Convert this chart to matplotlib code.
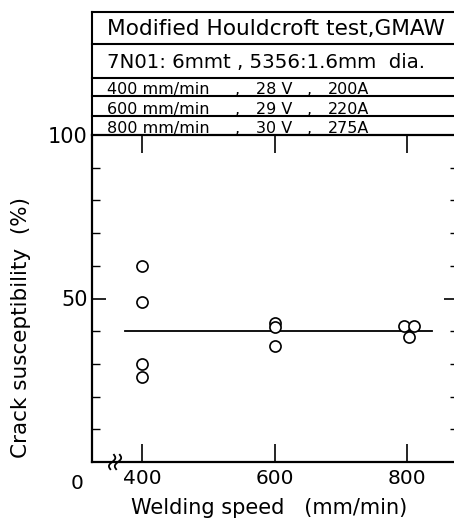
import matplotlib.pyplot as plt
from matplotlib.lines import Line2D
import numpy as np

# data
speed_400 = [400, 400, 400, 400]
crack_400 = [60, 49, 30, 26]
speed_600 = [600, 600, 600]
crack_600 = [42.5, 41.2, 35.5]
speed_800 = [795, 810, 803]
crack_800 = [41.5, 41.5, 38.2]
trend_x = [374, 838]
trend_y = [40, 40]

header_title = "Modified Houldcroft test,GMAW"
header_mat = "7N01: 6mmt , 5356:1.6mm  dia."
cond_speed = ["400 mm/min", "600 mm/min", "800 mm/min"]
cond_volt = ["28 V", "29 V", "30 V"]
cond_amp = ["200A", "220A", "275A"]

plt.rcParams['font.family'] = ['DejaVu Sans']
W, H = 454, 520
fig = plt.figure(figsize=(W / 100, H / 100), dpi=100)

def fx(px):
    return px / W

def fy(py):
    return 1 - py / H

ax_l, ax_r, ax_t, ax_b = 92, 458, 135, 462
ax = fig.add_axes([fx(ax_l), fy(ax_b), fx(ax_r - ax_l), fy(ax_t) - fy(ax_b)])
ax.set_xlim(324.5, 877)
ax.set_ylim(0, 100)

mk = dict(marker='o', mfc='white', mec='black', ms=8, mew=1.2, ls='none', zorder=3)
ax.plot(trend_x, trend_y, color='black', lw=1.3, zorder=2)
ax.plot(speed_400, crack_400, **mk)
ax.plot(speed_600, crack_600, **mk)
ax.plot(speed_800, crack_800, **mk)

for s in ax.spines.values():
    s.set_linewidth(1.6)

ax.set_xticks([400, 600, 800])
ax.set_xticklabels(['400', '600', '800'])
ax.set_yticks([50, 100])
ax.set_yticklabels(['50', '100'])
ax.set_yticks(np.arange(10, 100, 10), minor=True)
ax.tick_params(axis='x', direction='in', length=13, width=1.2, top=True,
               labelsize=14.5, pad=5)
ax.tick_params(axis='y', which='major', direction='in', length=10, width=1.2,
               right=True, labelsize=15, pad=3)
ax.tick_params(axis='y', which='minor', direction='in', length=6, width=1.0,
               right=True)

ax.text(-0.022, -0.036, '0', transform=ax.transAxes, ha='right', va='top',
        fontsize=14.5)
ax.set_xlabel('Welding speed   (mm/min)', fontsize=15)
ax.set_ylabel('Crack susceptibility  (%)', fontsize=15.5)
ax.yaxis.set_label_coords(-0.167, 0.41)
ax.xaxis.set_label_coords(0.485, -0.11)

# axis break mark
bx = 0.055
for dx in (0.0, 0.016):
    t = np.linspace(-1, 1, 40)
    xs = bx + dx + 0.006 * np.sin(t * np.pi) + 0.005 * t
    ys = 0.022 * t
    ax.plot(xs, ys, transform=ax.transAxes, color='black', lw=1.3,
            clip_on=False, zorder=4)

# header box
top = 12
rows = [top, 44, 78, 96, 116, 135]
lw = 1.5
fig.add_artist(Line2D([fx(ax_l), fx(ax_l)], [fy(top), fy(ax_t)], color='black', lw=lw))
for r in rows[:-1]:
    fig.add_artist(Line2D([fx(ax_l), fx(ax_r)], [fy(r), fy(r)], color='black', lw=lw))

fig.text(fx(107), fy(29), header_title, fontsize=15.6, va='center', ha='left')
fig.text(fx(107), fy(62), header_mat, fontsize=14.2, va='center', ha='left')
cs = 11.5
for i in range(3):
    yb = fy(rows[i + 3] - 2)
    fig.text(fx(107), yb, cond_speed[i], fontsize=cs, va='baseline', ha='left')
    fig.text(fx(235), yb, ',', fontsize=cs, va='baseline', ha='left')
    fig.text(fx(256), yb, cond_volt[i], fontsize=cs, va='baseline', ha='left')
    fig.text(fx(307), yb, ',', fontsize=cs, va='baseline', ha='left')
    fig.text(fx(328), yb, cond_amp[i], fontsize=cs, va='baseline', ha='left')

fig.savefig('out.png', dpi=100)
